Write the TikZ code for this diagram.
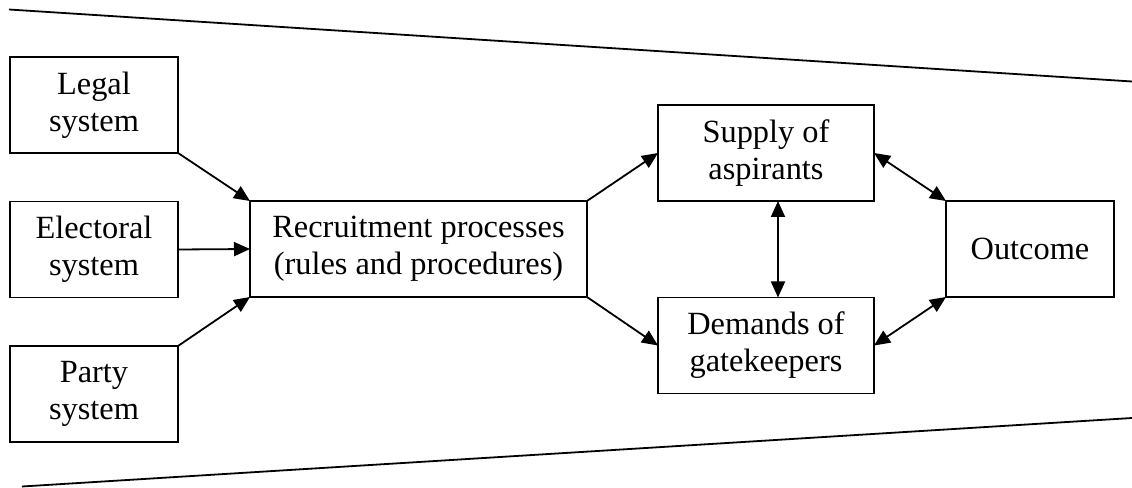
\documentclass[tikz,border=0pt]{standalone}
\usepackage{fontspec}
\setmainfont{Liberation Serif}
\usetikzlibrary{arrows.meta}
\begin{document}
\begin{tikzpicture}[x=1bp,y=-1bp,
  >={Triangle[length=16bp,width=14bp]},
  line width=1.8bp,
  box/.style={draw, inner sep=0pt, outer sep=0pt, align=center,
    font=\fontsize{32.5}{37}\selectfont},
  sidebox/.style={box, minimum width=168bp, minimum height=96bp},
  midbox/.style={box, minimum width=216bp, minimum height=96bp},
  link/.style={->},
  mutual/.style={<->}]
\useasboundingbox (0,0) rectangle (1132,488);

% funnel edges
\coordinate (t1) at (9,9.5);
\coordinate (t2) at (1132,81.5);
\coordinate (b1) at (22,486.5);
\coordinate (b2) at (1132,418);
\draw (t1) -- (t2);
\draw (b1) -- (b2);

% input systems
\node[sidebox] (legal) at (94,105) {Legal\\system};
\node[sidebox] (electoral) at (94,249.5) {Electoral\\system};
\node[sidebox] (party) at (94,394) {Party\\system};

% recruitment
\node[box, minimum width=337bp, minimum height=96bp] (recruit) at (418.5,249)
  {Recruitment processes\\(rules and procedures)};

% supply and demand
\node[midbox] (supply) at (766,153) {Supply of\\aspirants};
\node[midbox] (demand) at (766,345.5) {Demands of\\gatekeepers};

% outcome
\node[sidebox] (outcome) at (1030,249) {Outcome};

% connectors
\draw[link] (legal.south east) -- (recruit.north west);
\draw[link] (electoral.east) -- (recruit.west);
\draw[link] (party.north east) -- (recruit.south west);
\draw[link] (recruit.north east) -- (supply.west);
\draw[link] (recruit.south east) -- (demand.west);
\draw[mutual] ([xshift=12bp]supply.south) -- ([xshift=12bp]demand.north);
\draw[mutual] (supply.east) -- (outcome.north west);
\draw[mutual] (demand.east) -- (outcome.south west);
\end{tikzpicture}
\end{document}
